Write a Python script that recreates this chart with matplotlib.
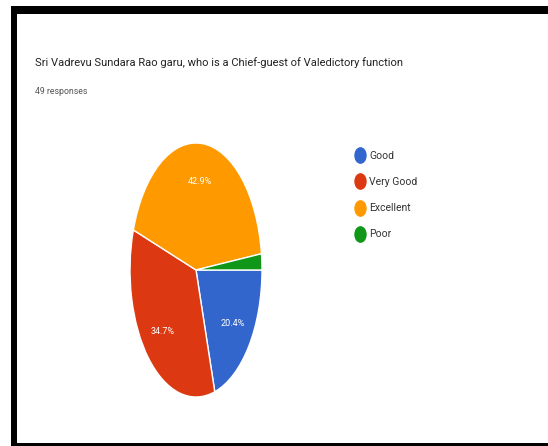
import matplotlib
matplotlib.use("Agg")
import matplotlib.pyplot as plt
from matplotlib.lines import Line2D
from matplotlib.patches import Rectangle
from matplotlib.path import Path
from matplotlib.transforms import Affine2D

W, H = 548, 446
FONT = ["Roboto", "DejaVu Sans"]

title = "Sri Vadrevu Sundara Rao garu, who is a Chief-guest of Valedictory function"
subtitle = "49 responses"
labels = ["Good", "Very Good", "Excellent", "Poor"]
counts = [10, 17, 21, 1]
colors = ["#3366CC", "#DC3912", "#FF9900", "#109618"]


def px(x, y):
    # pixel coords (top-left origin) -> figure fraction
    return x / W, 1 - y / H


def pct_label(p):
    return f"{p:.1f}%" if p > 5 else ""


fig = plt.figure(figsize=(W / 100, H / 100), dpi=100)
fig.patch.set_facecolor("white")

# pie squeezed into an ellipse like the screenshot
left, top, right, bottom = 130, 143, 262, 397
ax = fig.add_axes([left / W, 1 - bottom / H, (right - left) / W, (bottom - top) / H])
wedges, texts, autotexts = ax.pie(
    counts,
    colors=colors,
    startangle=0,
    counterclock=False,
    autopct=pct_label,
    pctdistance=0.7,
    wedgeprops=dict(edgecolor="white", linewidth=1),
    textprops=dict(color="white", fontsize=6.5, family=FONT),
)
ax.set_aspect("auto")
ax.set_xlim(-1, 1)
ax.set_ylim(-1, 1)

fig.text(*px(35, 63), title, fontsize=8, color="#212121", family=FONT, va="center")
fig.text(*px(35, 92), subtitle, fontsize=6.3, color="#555555", family=FONT, va="center")

# oval legend markers
oval = Affine2D().scale(0.72, 1).transform_path(Path.unit_circle())
handles = [Line2D([], [], marker=oval, linestyle="none", markersize=11,
                  markerfacecolor=c, markeredgecolor=c) for c in colors]
fig.legend(handles, labels, loc="upper left", bbox_to_anchor=px(356, 151),
           frameon=False, handlelength=0.8, handletextpad=0.45, labelspacing=1.55,
           prop=dict(family=FONT, size=7.5), labelcolor="#333333",
           borderaxespad=0, borderpad=0)

# black frame from the screenshot
for x0, y0, x1, y1 in [(11, 6, 17, 446), (11, 6, 548, 14), (11, 443, 548, 446)]:
    fig.add_artist(Rectangle((x0 / W, 1 - y1 / H), (x1 - x0) / W, (y1 - y0) / H,
                             transform=fig.transFigure, color="black", lw=0))

fig.savefig("out.png", dpi=100)
